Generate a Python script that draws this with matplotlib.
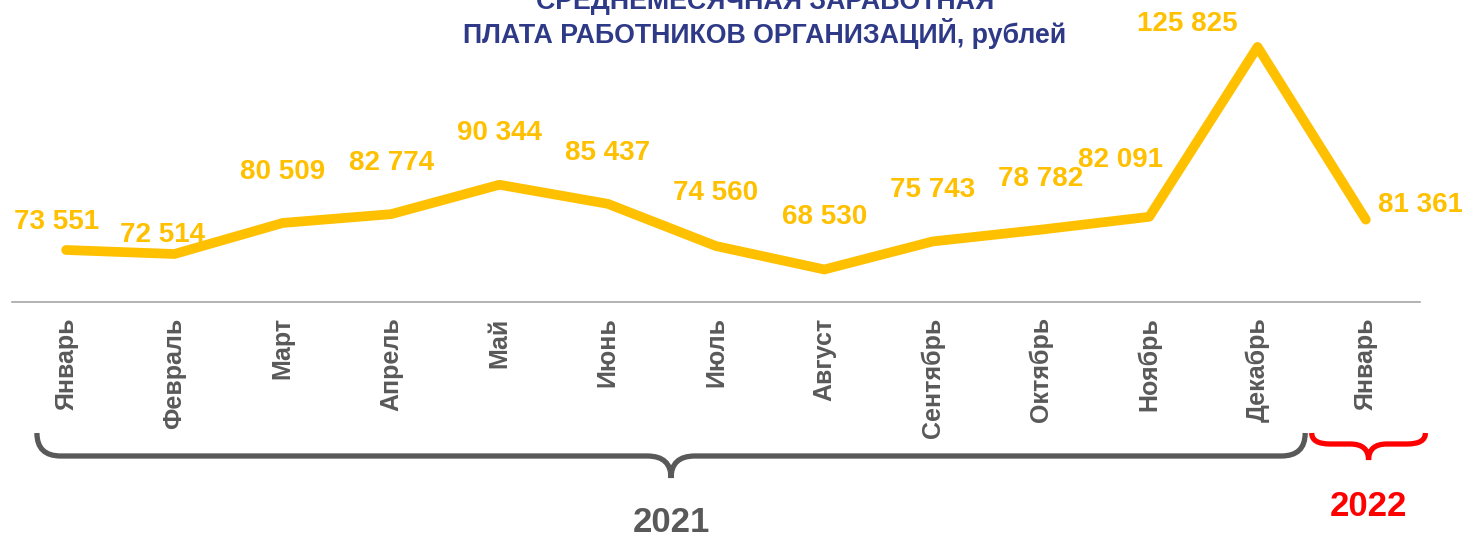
import matplotlib.pyplot as plt
from matplotlib.path import Path
from matplotlib.patches import PathPatch
import matplotlib.transforms as mtransforms

plt.rcParams['font.family'] = ['Liberation Sans', 'DejaVu Sans']

months = ['Январь', 'Февраль', 'Март', 'Апрель', 'Май', 'Июнь', 'Июль',
          'Август', 'Сентябрь', 'Октябрь', 'Ноябрь', 'Декабрь', 'Январь']
salary = [73551, 72514, 80509, 82774, 90344, 85437, 74560,
          68530, 75743, 78782, 82091, 125825, 81361]
years = ['2021', '2022']
# label offsets in pixels (dx, dy) relative to each point
label_offsets = [(-10, 28), (-12, 19), (0, 51), (0, 51), (0, 52), (0, 51), (0, 53),
                 (0, 52), (0, 51), (0, 51), (-29, 57), (-70, 23), (12, 15)]

W, H = 1462, 539
fig = plt.figure(figsize=(W / 100, H / 100), dpi=100)
ax = fig.add_axes([12 / W, 1 - 302 / H, 1408 / W, 302 / H])

x = list(range(len(months)))
ax.plot(x, salary, color='#FFC000', lw=7, solid_capstyle='round',
        solid_joinstyle='round')

for xi, v, (dx, dy) in zip(x, salary, label_offsets):
    txt = f'{v:,}'.replace(',', ' ')
    ha = 'left' if dx > 0 else 'center'
    ax.annotate(txt, (xi, v), xytext=(dx, dy), textcoords='offset pixels',
                ha=ha, va='center', fontsize=20, fontweight='bold',
                color='#FFC000')

ax.set_xlim(-0.5, len(months) - 0.5)
ax.set_ylim(60160, 137900)
for s in ['top', 'right', 'left']:
    ax.spines[s].set_visible(False)
ax.spines['bottom'].set_color('#A6A6A6')
ax.spines['bottom'].set_linewidth(1.2)
ax.set_yticks([])
ax.set_xticks(x)
ax.set_xticklabels(months, rotation=90, fontsize=18, fontweight='bold',
                   color='#595959', va='top')
ax.tick_params(axis='x', length=0, pad=11)

fig.text(0.523, 1 - 19 / H, 'СРЕДНЕМЕСЯЧНАЯ ЗАРАБОТНАЯ\nПЛАТА РАБОТНИКОВ ОРГАНИЗАЦИЙ, рублей',
         ha='center', va='center', fontsize=19.3, fontweight='bold',
         color='#2E3A87', linespacing=1.15)


def brace(x0, x1, ytop, yflat, ytip, rx, color, lw):
    # x in data units, y in figure pixels from top
    tr = mtransforms.blended_transform_factory(ax.transData, fig.transFigure)
    xm = (x0 + x1) / 2
    fy = lambda y: 1 - y / H
    verts = [(x0, fy(ytop)), (x0, fy(yflat)), (x0 + rx, fy(yflat)),
             (xm - rx, fy(yflat)), (xm, fy(yflat)), (xm, fy(ytip)),
             (xm, fy(yflat)), (xm + rx, fy(yflat)),
             (x1 - rx, fy(yflat)), (x1, fy(yflat)), (x1, fy(ytop))]
    codes = [Path.MOVETO, Path.CURVE3, Path.CURVE3,
             Path.LINETO, Path.CURVE3, Path.CURVE3,
             Path.CURVE3, Path.CURVE3,
             Path.LINETO, Path.CURVE3, Path.CURVE3]
    p = PathPatch(Path(verts, codes), transform=tr, fill=False,
                  edgecolor=color, lw=lw, capstyle='butt', clip_on=False)
    fig.add_artist(p)
    return xm


xm1 = brace(-0.27, 11.44, 433, 456, 478, 0.22, '#595959', 3.8)
xm2 = brace(11.5, 12.55, 433, 444, 460, 0.17, '#FF0000', 3.8)

tr = mtransforms.blended_transform_factory(ax.transData, fig.transFigure)
fig.text(xm1, 1 - 523 / H, years[0], transform=tr, ha='center', va='center',
         fontsize=25, fontweight='bold', color='#595959')
fig.text(xm2, 1 - 507 / H, years[1], transform=tr, ha='center', va='center',
         fontsize=25, fontweight='bold', color='#FF0000')

fig.savefig('out.png', dpi=100)
